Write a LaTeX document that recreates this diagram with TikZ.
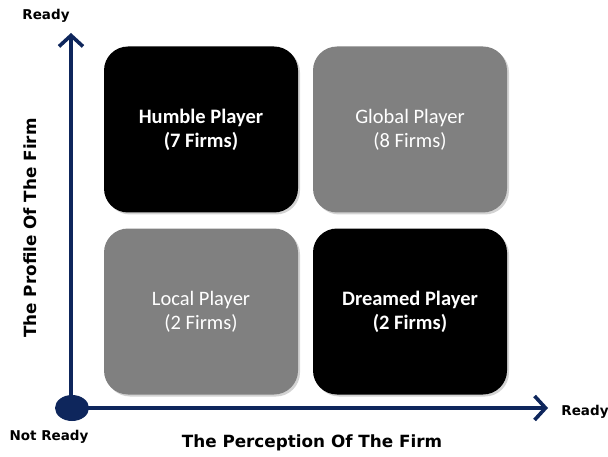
\documentclass[tikz,border=0pt]{standalone}
\usepackage{fontspec}
\setmainfont{Carlito}
\newfontfamily\axisfont{DejaVu Sans}
\usetikzlibrary{arrows.meta,shadows,shapes.geometric}

\definecolor{axisblue}{RGB}{14,38,92}
\definecolor{cellgray}{RGB}{128,128,128}

\tikzset{
  cell/.style={rounded corners=24pt,minimum width=194pt,minimum height=166pt,
    text=white,align=center,font=\fontsize{20.5}{24}\selectfont,
    drop shadow={opacity=0.35,shadow xshift=2pt,shadow yshift=-2pt}},
  darkcell/.style={cell,fill=black,font=\fontsize{20.5}{24}\selectfont\bfseries},
  lightcell/.style={cell,fill=cellgray},
  axis/.style={draw=axisblue,line width=3.6pt,-{Straight Barb[length=11pt,width=24pt,line width=3.6pt]}},
  ends/.style={font=\axisfont\bfseries\fontsize{13.5}{15}\selectfont},
  title/.style={font=\axisfont\bfseries\fontsize{16.8}{19}\selectfont}
}

\begin{document}
\begin{tikzpicture}[x=1pt,y=1pt]
\useasboundingbox (0,0) rectangle (608,456);
% the four quadrants
\node[darkcell]  (humble)  at (201,326.5) {Humble Player\\(7 Firms)};
\node[lightcell] (global)  at (410,326.5) {Global Player\\(8 Firms)};
\node[lightcell] (local)   at (201,144.5) {Local Player\\(2 Firms)};
\node[darkcell]  (dreamed) at (410,144.5) {Dreamed Player\\(2 Firms)};

% axes
\coordinate (origin) at (71,48);
\coordinate (ytip) at (71,423);
\coordinate (xtip) at (548,48);
\draw[axis] (origin) -- (ytip);
\draw[axis] (origin) -- (xtip);
\node[ellipse,fill=axisblue,minimum width=34pt,minimum height=26pt,inner sep=0pt] (dot) at (72,48) {};

% labels
\node[ends] (yready)   at (46,440) {Ready};
\node[ends] (notready) at (49,19)  {Not Ready};
\node[ends] (xready)   at (585,44) {Ready};
\node[title] (xtitle) at (312,13) {The Perception Of The Firm};
\node[title,rotate=90] (ytitle) at (30,228) {The Profile Of The Firm};
\end{tikzpicture}
\end{document}
